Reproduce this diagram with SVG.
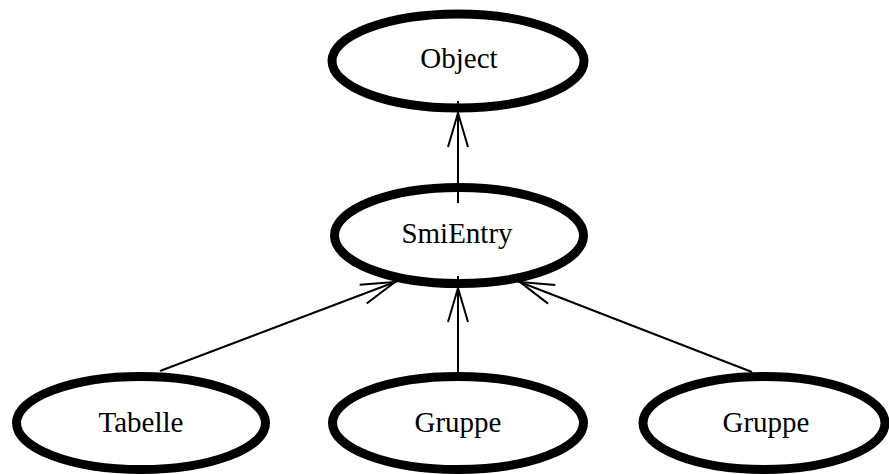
<svg xmlns="http://www.w3.org/2000/svg" width="889" height="474" viewBox="0 0 889 474">
  <style>
    .node ellipse { fill: #ffffff; stroke: #000000; stroke-width: 9; }
    .node text { font-family: "Liberation Serif", "Times New Roman", serif; font-size: 29px; fill: #000000; text-anchor: middle; }
    .edge { stroke: #000000; stroke-width: 2; fill: none; }
  </style>
  <defs>
    <!-- open V arrowhead; the line runs 12px past the tip -->
    <marker id="open-arrow" markerUnits="userSpaceOnUse" orient="auto" markerWidth="60" markerHeight="30" viewBox="-60 -15 60 30" refX="0" refY="0" overflow="visible">
      <path d="M -46 -10 L -12 0 L -46 10" fill="none" stroke="#000000" stroke-width="2"/>
    </marker>
  </defs>

  <g id="node-object" class="node">
    <ellipse cx="458" cy="61" rx="126" ry="47"/>
    <text x="459" y="68">Object</text>
  </g>
  <g id="node-smientry" class="node">
    <ellipse cx="459" cy="235.5" rx="124.5" ry="48"/>
    <text x="457" y="243">SmiEntry</text>
  </g>
  <g id="node-tabelle" class="node">
    <ellipse cx="141" cy="423" rx="124.5" ry="46.5"/>
    <text x="141" y="432">Tabelle</text>
  </g>
  <g id="node-gruppe-1" class="node">
    <ellipse cx="458" cy="423" rx="125.5" ry="46.5"/>
    <text x="458" y="432">Gruppe</text>
  </g>
  <g id="node-gruppe-2" class="node">
    <ellipse cx="764" cy="423" rx="121" ry="46.5"/>
    <text x="766" y="432">Gruppe</text>
  </g>

  <g id="connectors">
    <line class="edge" x1="458" y1="203" x2="458" y2="101" marker-end="url(#open-arrow)"/>
    <line class="edge" x1="160" y1="371" x2="406.2" y2="277.8" marker-end="url(#open-arrow)"/>
    <line class="edge" x1="458" y1="372" x2="458" y2="276" marker-end="url(#open-arrow)"/>
    <line class="edge" x1="752" y1="372" x2="508.8" y2="277.7" marker-end="url(#open-arrow)"/>
  </g>
</svg>
